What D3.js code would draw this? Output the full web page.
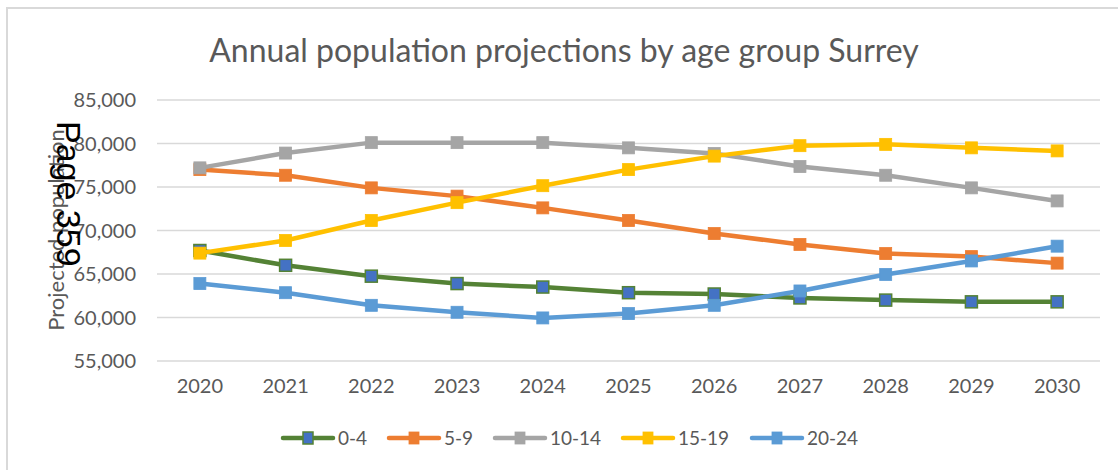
<!DOCTYPE html>
<html><head><meta charset="utf-8">
<script src="https://cdn.jsdelivr.net/npm/d3@7"></script>
<style>body{margin:0;background:#fff;} svg{display:block;}</style>
</head><body>
<svg id="c" width="1118" height="470"></svg>
<script>
const years = ["2020","2021","2022","2023","2024","2025","2026","2027","2028","2029","2030"];
const seriesNames = ["0-4","5-9","10-14","15-19","20-24"];
const s0_4   = [67700,66000,64750,63900,63500,62850,62700,62250,62000,61800,61800];
const s5_9   = [77000,76350,74900,73950,72600,71150,69650,68400,67350,67000,66250];
const s10_14 = [77200,78900,80100,80100,80100,79500,78850,77350,76350,74900,73400];
const s15_19 = [67400,68850,71150,73200,75150,77000,78550,79750,79900,79500,79150];
const s20_24 = [63900,62850,61400,60600,59950,60450,61400,63050,64950,66500,68200];
const yTicks = [55000,60000,65000,70000,75000,80000,85000];
const title = "Annual population projections by age group Surrey";
const yTitle = "Projected population";
const overlay = "Page 359";

const lineColors = ["#548235","#ED7D31","#A5A5A5","#FFC000","#5B9BD5"];
const markerFill = ["#4472C4","#ED7D31","#A5A5A5","#FFC000","#5B9BD5"];
const data = [s0_4,s5_9,s10_14,s15_19,s20_24];

const svg = d3.select("#c");
const font = "Lato, 'Liberation Sans', sans-serif";
const grey = "#595959";

// chart frame
svg.append("path").attr("d","M7,470 L7,8 L1118,8").attr("fill","none").attr("stroke","#D9D9D9").attr("stroke-width",2);

const x = d3.scaleBand().domain(years).range([157,1100]);
const y = d3.scaleLinear().domain([55000,85000]).range([361,100]);

// gridlines
svg.append("g").selectAll("line").data(yTicks).join("line")
  .attr("x1",157).attr("x2",1100).attr("y1",d=>y(d)).attr("y2",d=>y(d))
  .attr("stroke","#D9D9D9").attr("stroke-width",1.5);

// y axis labels
const fmt = d3.format(",");
svg.append("g").selectAll("text").data(yTicks).join("text")
  .attr("x",136).attr("y",d=>y(d)).attr("dy","0.35em").attr("text-anchor","end")
  .attr("font-family",font).attr("font-size",20).attr("fill",grey).text(d=>fmt(d));

// x axis labels
svg.append("g").selectAll("text").data(years).join("text")
  .attr("x",d=>x(d)+x.bandwidth()/2).attr("y",386).attr("dy","0.35em").attr("text-anchor","middle")
  .attr("font-family",font).attr("font-size",20).attr("fill",grey).text(d=>d);

// title
svg.append("text").attr("x",564).attr("y",51).attr("dy","0.35em").attr("text-anchor","middle")
  .attr("font-family",font).attr("font-size",32).attr("fill",grey).text(title);

// y title
svg.append("text").attr("transform","translate(56,230) rotate(-90)").attr("dy","0.35em").attr("text-anchor","middle")
  .attr("font-family",font).attr("font-size",22).attr("fill",grey).text(yTitle);

// lines
const line = d3.line().x((d,i)=>x(years[i])+x.bandwidth()/2).y(d=>y(d));
data.forEach((vals,k)=>{
  const g = svg.append("g");
  g.append("path").datum(vals).attr("d",line).attr("fill","none")
    .attr("stroke",lineColors[k]).attr("stroke-width",4.5).attr("stroke-linejoin","round").attr("stroke-linecap","round");
  g.selectAll("rect").data(vals).join("rect")
    .attr("x",(d,i)=>x(years[i])+x.bandwidth()/2-6).attr("y",d=>y(d)-6)
    .attr("width",12).attr("height",12)
    .attr("fill",markerFill[k]).attr("stroke",lineColors[k]).attr("stroke-width",k===0?1.5:0.8);
});

// legend
const legX = [283,389,495,623,752];
const lg = svg.append("g");
seriesNames.forEach((n,k)=>{
  const cy = 438;
  lg.append("line").attr("x1",legX[k]).attr("x2",legX[k]+50).attr("y1",cy).attr("y2",cy)
    .attr("stroke",lineColors[k]).attr("stroke-width",4.5).attr("stroke-linecap","round");
  lg.append("rect").attr("x",legX[k]+25-5).attr("y",cy-6).attr("width",10).attr("height",12)
    .attr("fill",markerFill[k]).attr("stroke",lineColors[k]).attr("stroke-width",k===0?1.5:0.8);
  lg.append("text").attr("x",legX[k]+55).attr("y",cy).attr("dy","0.35em")
    .attr("font-family",font).attr("font-size",19).attr("fill",grey).text(n);
});

// overlay page stamp
svg.append("text").attr("transform","translate(57,121) rotate(90)").attr("dy","0em")
  .attr("font-family","'Liberation Sans', Arial, sans-serif").attr("font-size",34).attr("fill","#000").text(overlay);
</script>
</body></html>
